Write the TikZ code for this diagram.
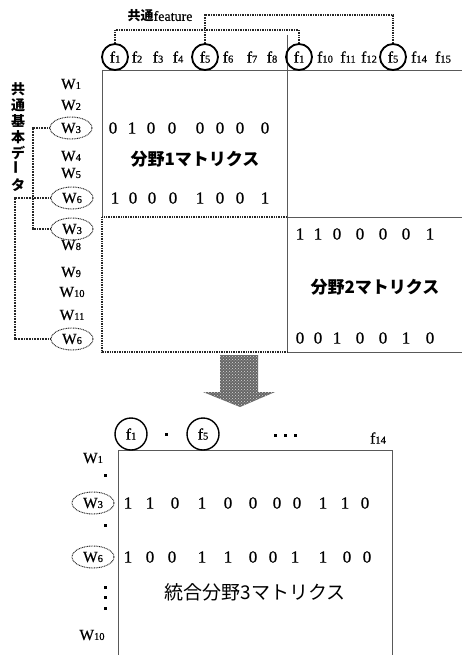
\documentclass[tikz,border=0pt]{standalone}
\usepackage{fontspec}
\setmainfont{Liberation Serif}[FakeBold=0.6]
\newfontfamily\jp{Noto Sans CJK JP}
\usetikzlibrary{shapes.geometric,patterns}
\newcommand\FL[1]{{\fontsize{16}{16}\selectfont f}{\fontsize{10.5}{10.5}\selectfont #1}}
\newcommand\WL[1]{{\fontsize{15.5}{15.5}\selectfont W}{\fontsize{10.5}{10.5}\selectfont #1}}
\tikzset{
 gridline/.style={draw=black!65, line width=0.7pt},
 heavydot/.style={draw=black!85, line width=1.7pt, dash pattern=on 1pt off 0.7pt},
 fcirc/.style={circle, draw, line width=1.8pt, minimum size=26pt, inner sep=0pt},
 fcircb/.style={fcirc, minimum size=32pt, line width=1.4pt},
 flab/.style={inner sep=0pt},
 wlab/.style={inner sep=0pt},
 well/.style={ellipse, draw=black!90, dash pattern=on 0.9pt off 0.8pt, line width=0.9pt, minimum width=42pt, minimum height=22pt, inner sep=0pt},
 bracket/.style={draw=black!85, line width=1.6pt, dash pattern=on 1pt off 0.7pt},
 lbracket/.style={draw=black!85, line width=1.2pt, dash pattern=on 0.9pt off 0.7pt},
 dig/.style={inner sep=0pt, font=\fontsize{17}{17}\selectfont},
 jtitle/.style={font=\jp\bfseries\fontsize{17}{17}\selectfont, inner sep=0pt},
}
\begin{document}
\begin{tikzpicture}[x=1pt,y=-1pt]
\useasboundingbox (0,0) rectangle (462,655);

% ---- top matrices grid ----
\draw[gridline] (102,70) -- (462,70);
\draw[gridline] (102,70) -- (102,217);
\draw[gridline] (287,35) -- (287,352);
\draw[gridline] (287,217) -- (462,217);
\draw[gridline] (287,352) -- (462,352);
\draw[heavydot] (287,217) -- (102,217) -- (102,352) -- (287,352);

% ---- feature header ----
\node[fcirc] (c1a) at (115,57) {\FL{1}};
\node[flab] (f2) at (137,57) {\FL{2}};
\node[flab] (f3) at (158,57) {\FL{3}};
\node[flab] (f4) at (178,57) {\FL{4}};
\node[fcirc] (c5a) at (205,57) {\FL{5}};
\node[flab] (f6) at (228,57) {\FL{6}};
\node[flab] (f7) at (252,57) {\FL{7}};
\node[flab] (f8) at (272,57) {\FL{8}};
\node[fcirc] (c1b) at (299,57) {\FL{1}};
\node[flab] (f10) at (325,57) {\FL{10}};
\node[flab] (f11) at (348,57) {\FL{11}};
\node[flab] (f12) at (369,57) {\FL{12}};
\node[fcirc] (c5b) at (393,57) {\FL{5}};
\node[flab] (f14) at (419,57) {\FL{14}};
\node[flab] (f15) at (443,57) {\FL{15}};

\node[inner sep=0pt] (feat) at (160,16) {{\jp\bfseries\fontsize{13}{13}\selectfont 共通}{\fontsize{14}{14}\selectfont feature}};

\coordinate (b1) at (200,30);
\coordinate (b2) at (393,15);
\draw[bracket] (c1a.north) |- (b1) -| (c1b.north);
\draw[bracket] (c5a.north) |- (b2) -- (c5b.north);

% ---- row labels ----
\node[wlab] (w1) at (71,84) {\WL{1}};
\node[wlab] (w2) at (71,105) {\WL{2}};
\node[well] (w3a) at (71,128) {\WL{3}};
\node[wlab] (w4) at (71,156) {\WL{4}};
\node[wlab] (w5) at (71,173) {\WL{5}};
\node[well] (w6a) at (72,198) {\WL{6}};
\node[well] (w3b) at (72,229) {\WL{3}};
\node[wlab] (w8) at (71,245) {\WL{8}};
\node[wlab] (w9) at (71,272) {\WL{9}};
\node[wlab] (w10) at (72,292) {\WL{10}};
\node[wlab] (w11) at (72,315) {\WL{11}};
\node[well] (w6b) at (72,339) {\WL{6}};

\node[inner sep=0pt, align=center, font=\jp\bfseries\fontsize{14}{16}\selectfont] (common) at (18,137)
  {共\\通\\基\\本\\デ\\\rotatebox{90}{ー}\\タ};

\coordinate (la) at (33,180);
\coordinate (lb) at (15,270);
\draw[lbracket] (w3a.west) -| (la) |- (w3b.west);
\draw[lbracket] (w6a.west) -| (lb) |- (w6b.west);

% ---- matrix 1 data ----
\foreach \x/\d [count=\i] in {113/0,132/1,151/0,172/0,200/0,220/0,240/0,265/0}
  \node[dig] (ma\i) at (\x,128) {\d};
\foreach \x/\d [count=\i] in {115/1,133/0,152/0,173/0,200/1,220/0,240/0,265/1}
  \node[dig] (mb\i) at (\x,198) {\d};
\node[jtitle] (t1) at (195,159) {分野1マトリクス};

% ---- matrix 2 data ----
\foreach \x/\d [count=\i] in {300/1,318/1,337/0,360/0,383/0,406/0,430/1}
  \node[dig] (na\i) at (\x,234) {\d};
\foreach \x/\d [count=\i] in {300/0,318/0,337/1,360/0,383/0,406/1,430/0}
  \node[dig] (nb\i) at (\x,338) {\d};
\node[jtitle] (t2) at (375,287) {分野2マトリクス};

% ---- arrow ----
\fill[black!60] (220,355) -- (258,355) -- (258,392) -- (275,392) -- (240,407) -- (203,392) -- (220,392) -- cycle;
\fill[pattern=crosshatch dots, pattern color=white!85!black] (220,355) -- (258,355) -- (258,392) -- (275,392) -- (240,407) -- (203,392) -- (220,392) -- cycle;

% ---- integrated matrix ----
\draw[gridline] (118,655) -- (118,450) -- (392,450) -- (392,655);
\node[fcircb] (d1) at (131,434) {\FL{1}};
\node[fcircb] (d5) at (203,434) {\FL{5}};
\fill (165,433) rectangle ++(3,3);
\foreach \x in {274,284,294} \fill (\x,434) rectangle ++(3,3);
\node[flab] (g14) at (378,438) {\FL{14}};

\node[wlab] (v1) at (93,458) {\WL{1}};
\node[well] (v3) at (93,503) {\WL{3}};
\node[well] (v6) at (93,557) {\WL{6}};
\node[wlab] (v10) at (92,635) {\WL{10}};
\foreach \y in {475,525,587,597,608} \fill (103.5,\y-1.5) rectangle ++(3,3);

\foreach \x/\d [count=\i] in {128/1,150/1,175/0,202/1,228/0,253/0,277/0,297/0,323/1,345/1,365/0}
  \node[dig] (pa\i) at (\x,503) {\d};
\foreach \x/\d [count=\i] in {128/1,150/0,172/0,202/1,228/1,253/0,273/0,295/1,323/1,347/0,367/0}
  \node[dig] (pb\i) at (\x,557) {\d};
\node[inner sep=0pt, font=\jp\fontsize{19}{19}\selectfont] (t3) at (255,592) {統合分野3マトリクス};
\end{tikzpicture}
\end{document}
